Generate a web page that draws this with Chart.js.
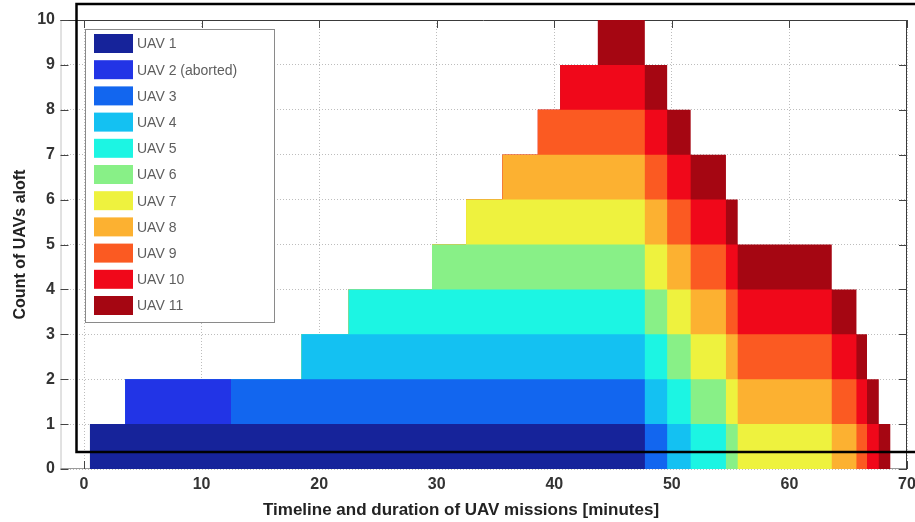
<!DOCTYPE html>
<html>
<head>
<meta charset="utf-8">
<script src="https://cdn.jsdelivr.net/npm/chart.js@4"></script>
<style>
  html, body { margin: 0; padding: 0; background: #ffffff; }
  #wrap { width: 915px; height: 522px; position: relative; }
  canvas { display: block; }
</style>
</head>
<body>
<div id="wrap"><canvas id="chart" width="915" height="522"></canvas></div>
<script>
// ---- data ----
const uavNames = ['UAV 1', 'UAV 2 (aborted)', 'UAV 3', 'UAV 4', 'UAV 5', 'UAV 6',
                  'UAV 7', 'UAV 8', 'UAV 9', 'UAV 10', 'UAV 11'];
const launchMinutes = [0.5, 3.5, 12.5, 18.5, 22.5, 29.6, 32.5, 35.6, 38.6, 40.5, 43.7];
const landMinutes   = [47.7, 12.5, 49.6, 51.6, 54.6, 55.6, 63.6, 65.7, 66.6, 67.6, 68.6];
const xTickValues = [0, 10, 20, 30, 40, 50, 60, 70];
const yTickValues = [0, 1, 2, 3, 4, 5, 6, 7, 8, 9, 10];
const xTitle = 'Timeline and duration of UAV missions [minutes]';
const yTitle = 'Count of UAVs aloft';

// ---- styles ----
const uavColors = ['#16239a', '#2234e6', '#1266ef', '#14c1f2', '#1cf5e3', '#88f087',
                   '#eef23e', '#fcb131', '#fb5a22', '#f0081a', '#a50612'];
const FONT = "'Liberation Sans', Arial, Helvetica, sans-serif";

// every moment something changes (a launch or a landing)
const eventTimes = Array.from(new Set([...launchMinutes, ...landMinutes])).sort((a, b) => a - b);

const datasets = uavNames.map((name, i) => ({
  label: name,
  data: eventTimes.map(t => ({ x: t, y: (t >= launchMinutes[i] && t < landMinutes[i]) ? 1 : 0 })),
  backgroundColor: uavColors[i],
  borderColor: 'rgba(0,0,0,0)',
  borderWidth: 0,
  pointRadius: 0,
  pointHoverRadius: 0,
  stepped: true,
  tension: 0,
  fill: 'origin'
}));

const frame = {
  id: 'frame',
  beforeDatasetsDraw(chart) {
    const { ctx, chartArea: a, scales: { x, y } } = chart;
    ctx.save();
    ctx.lineWidth = 1;
    // axis box
    ctx.strokeStyle = '#c4c4c4';
    ctx.beginPath(); ctx.moveTo(a.left + 0.5, a.top); ctx.lineTo(a.left + 0.5, a.bottom); ctx.stroke();
    ctx.strokeStyle = '#9a9a9a';
    ctx.beginPath(); ctx.moveTo(a.left, a.bottom - 0.5); ctx.lineTo(a.right, a.bottom - 0.5); ctx.stroke();
    ctx.strokeStyle = '#3a3a3a';
    ctx.beginPath();
    ctx.moveTo(a.left, a.top + 0.5); ctx.lineTo(a.right - 0.5, a.top + 0.5); ctx.lineTo(a.right - 0.5, a.bottom);
    ctx.stroke();
    // inward tick marks
    const tl = 8;
    ctx.strokeStyle = '#444';
    ctx.beginPath();
    xTickValues.forEach(v => {
      const px = Math.round(x.getPixelForValue(v)) + 0.5;
      ctx.moveTo(px, a.bottom); ctx.lineTo(px, a.bottom - tl);
      ctx.moveTo(px, a.top); ctx.lineTo(px, a.top + tl);
    });
    yTickValues.forEach(v => {
      const py = Math.round(y.getPixelForValue(v)) + 0.5;
      ctx.moveTo(a.left, py); ctx.lineTo(a.left + tl, py);
      ctx.moveTo(a.right, py); ctx.lineTo(a.right - tl, py);
    });
    ctx.stroke();
    ctx.restore();
  },
  afterDraw(chart) {
    const { ctx } = chart;
    ctx.save();
    // legend
    const lx = 85.5, ly = 29.5, lw = 189, lh = 293;
    ctx.fillStyle = '#ffffff';
    ctx.fillRect(lx, ly, lw, lh);
    ctx.strokeStyle = '#8a8a8a';
    ctx.lineWidth = 1;
    ctx.strokeRect(lx, ly, lw, lh);
    ctx.font = '14px ' + FONT;
    ctx.textBaseline = 'middle';
    ctx.textAlign = 'left';
    chart.data.datasets.forEach((ds, i) => {
      const cy = 43.5 + i * 26.2;
      ctx.fillStyle = ds.backgroundColor;
      ctx.fillRect(94, cy - 9.5, 39, 19);
      ctx.fillStyle = '#5e5e5e';
      ctx.fillText(ds.label, 137, cy + 1);
    });
    // x axis title
    ctx.font = 'bold 17px ' + FONT;
    ctx.fillStyle = '#222';
    ctx.textAlign = 'center';
    ctx.textBaseline = 'middle';
    ctx.fillText(xTitle, 461, 510);
    // black overlay frame of the reference picture
    ctx.strokeStyle = '#000000';
    ctx.lineWidth = 2.5;
    ctx.beginPath();
    ctx.moveTo(920, 4); ctx.lineTo(76.5, 4); ctx.lineTo(76.5, 452); ctx.lineTo(920, 452);
    ctx.stroke();
    ctx.restore();
  }
};

new Chart(document.getElementById('chart'), {
  type: 'line',
  data: { datasets },
  options: {
    responsive: false,
    animation: false,
    devicePixelRatio: 1,
    events: [],
    layout: { padding: { top: 20, right: 8, left: 0, bottom: 0 } },
    plugins: { legend: { display: false }, tooltip: { enabled: false } },
    scales: {
      x: {
        type: 'linear',
        min: -2,
        max: 70,
        afterBuildTicks: s => { s.ticks = xTickValues.map(v => ({ value: v })); },
        afterFit: s => { s.height = 53; s.paddingLeft = 0; s.paddingRight = 0; },
        grid: { color: '#bdbdbd', drawTicks: false },
        border: { display: false, dash: [1, 2] },
        ticks: {
          autoSkip: false, maxRotation: 0, padding: 6, color: '#333',
          font: { family: FONT, size: 16, weight: 'bold' }
        }
      },
      y: {
        stacked: true,
        min: 0,
        max: 10,
        afterBuildTicks: s => { s.ticks = yTickValues.map(v => ({ value: v })); },
        afterFit: s => { s.width = 60.5; s.paddingTop = 0; s.paddingBottom = 0; },
        grid: { color: '#bdbdbd', drawTicks: false },
        border: { display: false, dash: [1, 2] },
        ticks: {
          padding: 5.5, color: '#333',
          font: { family: FONT, size: 16, weight: 'bold' }
        },
        title: {
          display: true, text: yTitle, color: '#222',
          font: { family: FONT, size: 16, weight: 'bold' },
          padding: { top: 11, bottom: 0 }
        }
      }
    }
  },
  plugins: [frame]
});
</script>
</body>
</html>
